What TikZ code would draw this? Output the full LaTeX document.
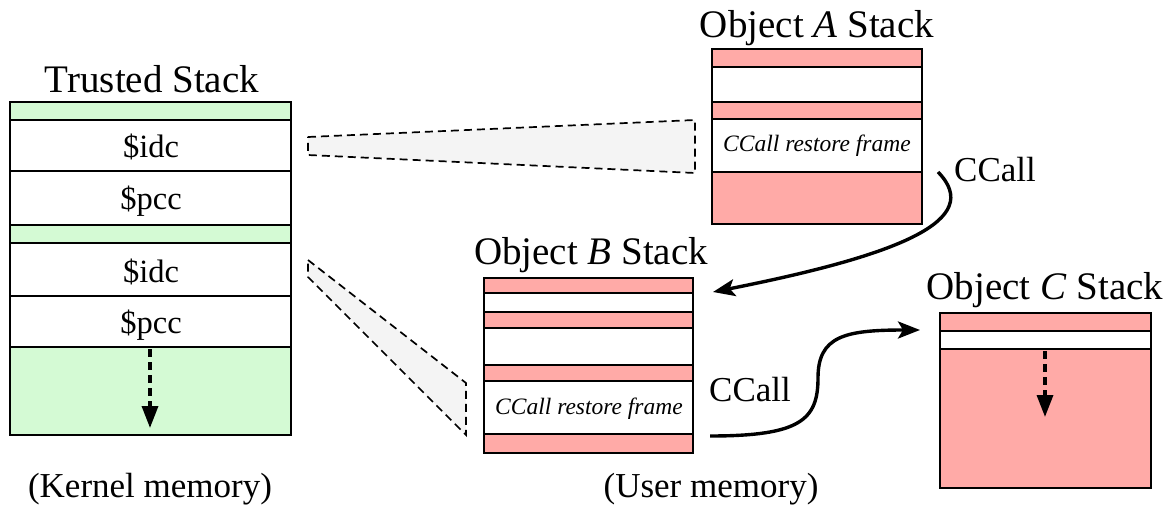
\documentclass[tikz,border=0pt]{standalone}
\usepackage{fontspec}
\setmainfont{Liberation Serif}
\usetikzlibrary{arrows.meta}
\definecolor{kgreen}{HTML}{D4FAD4}
\definecolor{upink}{HTML}{FFAAA7}
\definecolor{shade}{HTML}{F4F4F4}
\tikzset{
  band/.style={draw=black, line width=1.8pt},
  txt/.style={anchor=base, inner sep=0pt},
  title/.style={txt, font=\fontsize{39}{46}\selectfont},
  cell/.style={txt, font=\fontsize{32.5}{38}\selectfont},
  frame/.style={txt, font=\itshape\fontsize{23.5}{28}\selectfont},
  calllabel/.style={txt, font=\fontsize{35}{42}\selectfont},
  memlabel/.style={txt, font=\fontsize{35}{42}\selectfont},
  window/.style={draw=black, dash pattern=on 8pt off 5pt, line width=1.7pt, fill=shade},
  growth/.style={dash pattern=on 8pt off 5pt, line width=3.4pt, -{Triangle[length=22pt,width=16pt]}},
  ccall/.style={line width=3.4pt, -{Stealth[length=22pt,width=17pt,inset=5pt]}}
}
\begin{document}
\begin{tikzpicture}[x=1pt,y=-1pt]
\useasboundingbox (0,0) rectangle (1168,505);

% ---- Trusted stack (kernel memory)
\node[title] (tstitle) at (152,93) {Trusted Stack};
\filldraw[band, fill=kgreen] (10,102) rectangle (291,120);
\filldraw[band, fill=white] (10,120) rectangle (291,171);
\filldraw[band, fill=white] (10,171) rectangle (291,225);
\filldraw[band, fill=kgreen] (10,225) rectangle (291,243);
\filldraw[band, fill=white] (10,243) rectangle (291,296);
\filldraw[band, fill=white] (10,296) rectangle (291,347);
\filldraw[band, fill=kgreen] (10,347) rectangle (291,435);
\node[cell] (idcA) at (151,158) {\$idc};
\node[cell] (pccA) at (151,210) {\$pcc};
\node[cell] (idcB) at (151,283) {\$idc};
\node[cell] (pccB) at (151,334) {\$pcc};
\coordinate (tsgrow0) at (150,349);
\coordinate (tsgrow1) at (150,428);
\draw[growth] (tsgrow0) -- (tsgrow1);

% ---- Object A stack
\node[title] (atitle) at (817,38) {Object \textit{A} Stack};
\filldraw[band, fill=upink] (712,49) rectangle (922,67);
\filldraw[band, fill=white] (712,67) rectangle (922,102);
\filldraw[band, fill=upink] (712,102) rectangle (922,119);
\filldraw[band, fill=white] (712,119) rectangle (922,172);
\filldraw[band, fill=upink] (712,172) rectangle (922,224);
\node[frame] (aframe) at (817,152) {CCall restore frame};

% ---- Object B stack
\node[title] (btitle) at (591,265) {Object \textit{B} Stack};
\filldraw[band, fill=upink] (484,278) rectangle (693,293);
\filldraw[band, fill=white] (484,293) rectangle (693,312);
\filldraw[band, fill=upink] (484,312) rectangle (693,328);
\filldraw[band, fill=white] (484,328) rectangle (693,365);
\filldraw[band, fill=upink] (484,365) rectangle (693,381);
\filldraw[band, fill=white] (484,381) rectangle (693,434);
\filldraw[band, fill=upink] (484,434) rectangle (693,453);
\node[frame] (bframe) at (589,414) {CCall restore frame};

% ---- Object C stack
\node[title] (ctitle) at (1045,299) {Object \textit{C} Stack};
\filldraw[band, fill=upink] (940,313) rectangle (1151,331);
\filldraw[band, fill=white] (940,331) rectangle (1151,349);
\filldraw[band, fill=upink] (940,349) rectangle (1151,488);
\coordinate (csgrow0) at (1045,351);
\coordinate (csgrow1) at (1045,417);
\draw[growth] (csgrow0) -- (csgrow1);

% ---- Saved-state windows onto the restore frames
\filldraw[window] (308,137) -- (695,120) -- (695,173) -- (308,155) -- cycle;
\filldraw[window] (308,260) -- (466,383) -- (466,435) -- (308,277) -- cycle;

% ---- Domain crossings
\coordinate (callA0) at (938,172);
\coordinate (callA1) at (713,292);
\draw[ccall] (callA0) .. controls (985,220) and (900,255) .. (callA1);
\node[calllabel] (callAlabel) at (995,182) {CCall};

\coordinate (callB0) at (710,436);
\coordinate (callBmid) at (818,378);
\coordinate (callB1) at (920,330);
\draw[ccall] (callB0) .. controls (800,436) and (818,420) .. (callBmid)
  .. controls (818,336) and (845,330) .. (callB1);
\node[calllabel] (callBlabel) at (750,401) {CCall};

% ---- Memory regions
\node[memlabel] (kmem) at (150,497) {(Kernel memory)};
\node[memlabel] (umem) at (711,497) {(User memory)};
\end{tikzpicture}
\end{document}
